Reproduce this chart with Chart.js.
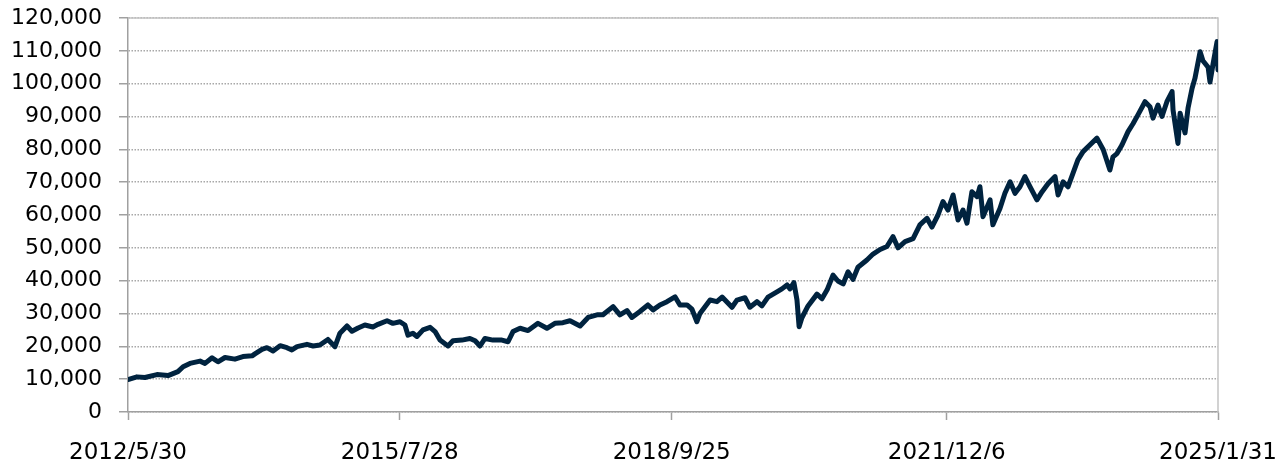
<!DOCTYPE html>
<html><head><meta charset="utf-8">
<script src="https://cdn.jsdelivr.net/npm/chart.js@4/dist/chart.umd.min.js"></script>
<style>html,body{margin:0;padding:0;background:#fff;overflow:hidden}#wrap{width:1284px;height:459px;position:relative}</style>
</head><body><div id="wrap"><canvas id="c" width="1284" height="459"></canvas></div>
<script>
// x tick positions (days since 2012/5/30) and their labels
const tickDays = [0, 1154, 2309, 3477, 4629];
const tickLabels = ['2012/5/30', '2015/7/28', '2018/9/25', '2021/12/6', '2025/1/31'];

// days since 2012/5/30
const days = [
  0,38,72,123,170,212,234,263,306,327,357,382,412,454,488,527,539,569,590,616,
  646,675,696,718,760,786,815,849,879,900,930,951,977,1006,1040,1062,1100,1125,1155,1176,
  1189,1210,1227,1253,1283,1304,1325,1359,1380,1418,1452,1474,1495,1516,1550,1588,1614,1635,1665,1699,
  1741,1779,1813,1847,1877,1920,1954,1992,2017,2060,2089,2119,2140,2174,2208,2230,2259,2289,2323,2344,
  2374,2395,2416,2429,2472,2501,2523,2565,2586,2620,2641,2671,2692,2718,2756,2777,2799,2811,2828,2841,
  2850,2862,2888,2926,2947,2969,2994,3015,3037,3058,3079,3100,3138,3164,3194,3223,3249,3270,3300,3334,
  3363,3393,3414,3440,3461,3482,3504,3525,3546,3563,3584,3606,3618,3631,3661,3673,3703,3724,3746,3767,
  3788,3809,3831,3860,3882,3907,3937,3950,3971,3992,4013,4034,4056,4077,4115,4141,4170,4183,4200,4221,
  4247,4268,4289,4319,4340,4353,4374,4391,4412,4434,4438,4459,4468,4489,4502,4519,4531,4553,4565,4587,
  4595,4608,4625,4629
];
// index value
const values = [
  9900,10700,10500,11400,11100,12300,13800,14800,15500,14800,16500,15300,16600,16100,16900,17100,17700,19100,19600,18600,
  20200,19600,18900,19900,20600,20100,20400,22100,19900,24000,26200,24600,25600,26500,25900,26700,27800,27000,27500,26500,
  23400,24000,23000,25000,25800,24500,21900,20100,21700,21900,22400,21700,20100,22400,21900,21900,21400,24500,25500,24800,
  27000,25500,27000,27200,27800,26200,28800,29600,29600,32100,29600,30900,28800,30600,32600,31100,32600,33600,35100,32600,
  32600,31300,27500,30000,34100,33600,35000,31900,34100,34800,31900,33600,32300,35000,36600,37500,38700,37500,39400,34100,
  26000,28700,32300,35900,34500,37200,41700,39900,39000,42700,40400,44100,46300,48100,49500,50400,53400,50000,51900,52800,
  57000,59000,56300,60000,64100,61500,66100,58500,61500,57500,67100,65600,68600,59500,64600,57000,62000,66600,70100,66600,
  68600,71700,68600,64600,67100,69500,71700,66100,70100,68600,72700,76800,79300,80800,83400,80000,73700,77700,78700,81300,
  85400,87800,90500,94500,93000,89500,93500,90000,94500,97600,92000,81800,91000,85000,92700,98600,101600,109700,107000,105000,
  100500,106000,112800,104200
];

const points = days.map((d, i) => ({ x: d, y: values[i] }));

const frame = {
  id: 'frame',
  beforeDatasetsDraw(chart) {
    const { ctx, chartArea: a } = chart;
    ctx.save();
    ctx.strokeStyle = '#c4c4c4';
    ctx.lineWidth = 1.5;
    ctx.beginPath();
    ctx.moveTo(a.left, a.top);
    ctx.lineTo(a.right, a.top);
    ctx.lineTo(a.right, a.bottom);
    ctx.stroke();
    ctx.restore();
  }
};

new Chart(document.getElementById('c'), {
  type: 'line',
  data: {
    datasets: [{
      data: points,
      borderColor: '#00233f',
      borderWidth: 5,
      pointRadius: 0,
      tension: 0,
      borderJoinStyle: 'round',
      borderCapStyle: 'round',
      fill: false
    }]
  },
  options: {
    responsive: false,
    animation: false,
    devicePixelRatio: 1,
    layout: { autoPadding: false, padding: { top: 18, right: 66, left: 0, bottom: 0 } },
    plugins: { legend: { display: false }, tooltip: { enabled: false } },
    scales: {
      x: {
        type: 'linear',
        min: tickDays[0],
        max: tickDays[tickDays.length - 1],
        afterBuildTicks(scale) { scale.ticks = tickDays.map(v => ({ value: v })); },
        afterFit(scale) { scale.height = 47; scale.paddingLeft = 0; scale.paddingRight = 0; },
        ticks: {
          autoSkip: false,
          maxRotation: 0,
          padding: 19,
          color: '#000',
          font: { family: 'DejaVu Sans', size: 23 },
          callback: (v) => { const i = tickDays.indexOf(v); return i >= 0 ? tickLabels[i] : ''; }
        },
        grid: { drawOnChartArea: false, drawTicks: true, tickLength: 8, tickColor: '#a0a0a0', tickWidth: 1.5 },
        border: { color: '#a0a0a0', width: 1.5 }
      },
      y: {
        min: 0,
        max: 120000,
        afterFit(scale) { scale.width = 128; scale.paddingTop = 0; scale.paddingBottom = 0; },
        ticks: {
          stepSize: 10000,
          padding: 17,
          color: '#000',
          font: { family: 'DejaVu Sans', size: 22 },
          callback: (v) => Number(v).toLocaleString('en-US')
        },
        grid: { color: '#a8a8a8', lineWidth: 1.5, tickLength: 9, tickColor: '#a0a0a0', tickWidth: 1.5, tickBorderDash: [] },
        border: { color: '#a0a0a0', width: 1.5, dash: [1.5, 1.5] }
      }
    }
  },
  plugins: [frame]
});
</script>
</body></html>
